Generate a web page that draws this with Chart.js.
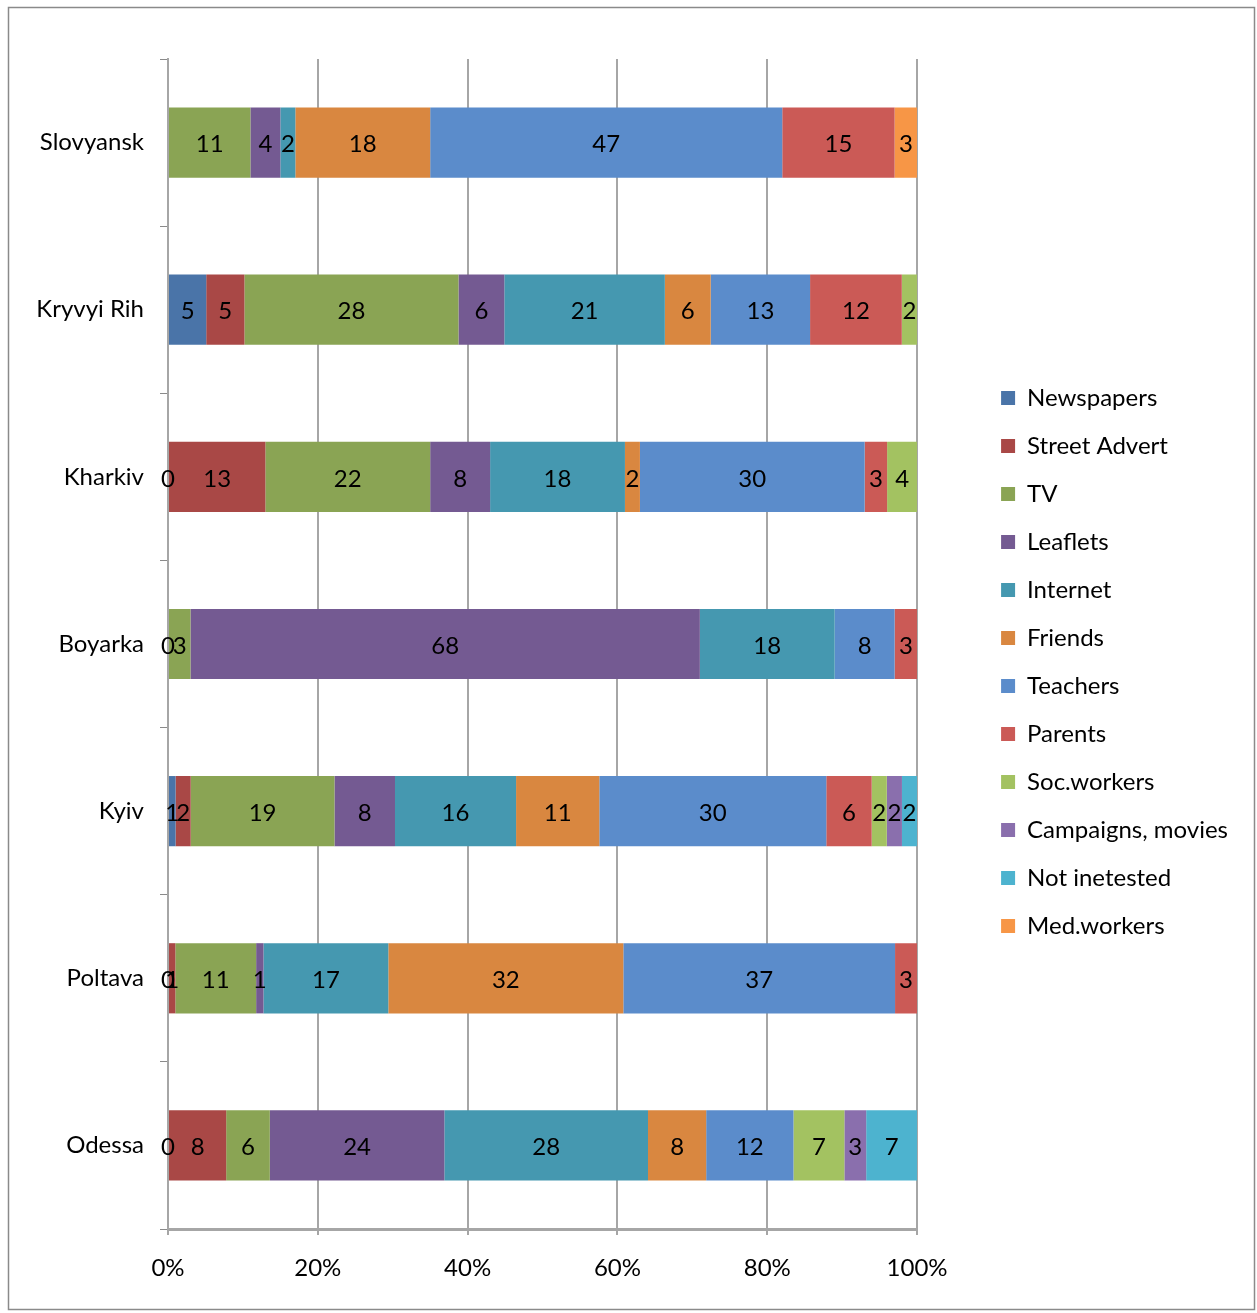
<!DOCTYPE html>
<html>
<head>
<meta charset="utf-8">
<script src="https://cdn.jsdelivr.net/npm/chart.js@4.4.1/dist/chart.umd.min.js"></script>
<style>
  html, body { margin: 0; padding: 0; background: #fff; }
  canvas { display: block; }
</style>
</head>
<body>
<canvas id="chart" width="1257" height="1313"></canvas>
<script>
let cities = ['Slovyansk', 'Kryvyi Rih', 'Kharkiv', 'Boyarka', 'Kyiv', 'Poltava', 'Odessa']

// answers per city, null = no label in the original
let newspapers    = [null, 5, 0, 0, 1, 0, 0]
let streetAdvert  = [null, 5, 13, null, 2, 1, 8]
let tv            = [11, 28, 22, 3, 19, 11, 6]
let leaflets      = [4, 6, 8, 68, 8, 1, 24]
let internet      = [2, 21, 18, 18, 16, 17, 28]
let friends       = [18, 6, 2, null, 11, 32, 8]
let teachers      = [47, 13, 30, 8, 30, 37, 12]
let parents       = [15, 12, 3, 3, 6, 3, null]
let socWorkers    = [null, 2, 4, null, 2, null, 7]
let campaigns     = [null, null, null, null, 2, null, 3]
let notInterested = [null, null, null, null, 2, null, 7]
let medWorkers    = [3, null, null, null, null, null, null]

let xTicks = [0, 20, 40, 60, 80, 100]

let series = [
    ['Newspapers', newspapers, '#4a74a8'],
    ['Street Advert', streetAdvert, '#a94846'],
    ['TV', tv, '#8aa454'],
    ['Leaflets', leaflets, '#745a92'],
    ['Internet', internet, '#4598b0'],
    ['Friends', friends, '#d98740'],
    ['Teachers', teachers, '#5b8ccb'],
    ['Parents', parents, '#cb5a56'],
    ['Soc.workers', socWorkers, '#a3c261'],
    ['Campaigns, movies', campaigns, '#8a6fad'],
    ['Not inetested', notInterested, '#4db3cf'],
    ['Med.workers', medWorkers, '#f79646']
]

// 100% stacked: share of each city's total
let totals = cities.map((_, i) => series.reduce((s, d) => s + (d[1][i] || 0), 0))

let datasets = series.map(([name, values, color]) => ({
    label: name,
    raw: values,
    data: values.map((v, i) => v == null ? null : v / totals[i] * 100),
    backgroundColor: color,
    borderWidth: 0,
    barPercentage: 1,
    categoryPercentage: 0.42
}))

Chart.defaults.font.family = 'Lato'
Chart.defaults.color = '#000'

let frame = {
    id: 'frame',
    beforeDraw(chart) {
        let c = chart.ctx
        c.save()
        c.strokeStyle = '#8a8a8a'
        c.lineWidth = 1.5
        c.strokeRect(8.5, 7.5, 1246, 1302)
        c.restore()
    }
}

let valueLabels = {
    id: 'valueLabels',
    afterDatasetsDraw(chart) {
        let c = chart.ctx
        c.save()
        c.font = '24px Lato'
        c.fillStyle = '#000'
        c.textAlign = 'center'
        c.textBaseline = 'middle'
        chart.data.datasets.forEach((ds, di) => {
            chart.getDatasetMeta(di).data.forEach((bar, i) => {
                let v = ds.raw[i]
                if (v == null) return
                c.fillText(String(v), (bar.x + bar.base) / 2, bar.y + 2)
            })
        })
        c.restore()
    }
}

new Chart(document.getElementById('chart').getContext('2d'), {
    type: 'bar',
    data: { labels: cities, datasets: datasets },
    options: {
        indexAxis: 'y',
        responsive: false,
        animation: false,
        layout: { padding: { top: 35, left: 0, right: 19, bottom: 24 } },
        plugins: {
            tooltip: { enabled: false },
            // empty title / subtitle used as spacers
            title: { display: true, position: 'right', weight: 500, text: ' ', font: { size: 10 }, padding: 24 },
            subtitle: { display: true, position: 'top', fullSize: false, text: ' ', font: { size: 10 }, padding: 6 },
            legend: {
                position: 'right',
                maxWidth: 320,
                labels: {
                    boxWidth: 14,
                    boxHeight: 14,
                    padding: 24,
                    font: { size: 24 }
                }
            }
        },
        scales: {
            x: {
                stacked: true,
                min: 0,
                max: 100,
                afterBuildTicks(scale) { scale.ticks = xTicks.map(v => ({ value: v })) },
                afterFit(scale) { scale.height = 60 },
                ticks: { callback: v => v + '%', font: { size: 24 }, padding: 19 },
                grid: { color: '#a6a6a6', lineWidth: 2, tickLength: 6 },
                border: { color: '#a6a6a6', width: 3 }
            },
            y: {
                stacked: true,
                afterFit(scale) { scale.width = 168 },
                ticks: { font: { size: 24 }, padding: 16 },
                grid: { drawOnChartArea: false, color: '#8a8a8a', tickLength: 8, offset: true },
                border: { color: '#a6a6a6', width: 2 }
            }
        }
    },
    plugins: [frame, valueLabels]
})
</script>
</body>
</html>
